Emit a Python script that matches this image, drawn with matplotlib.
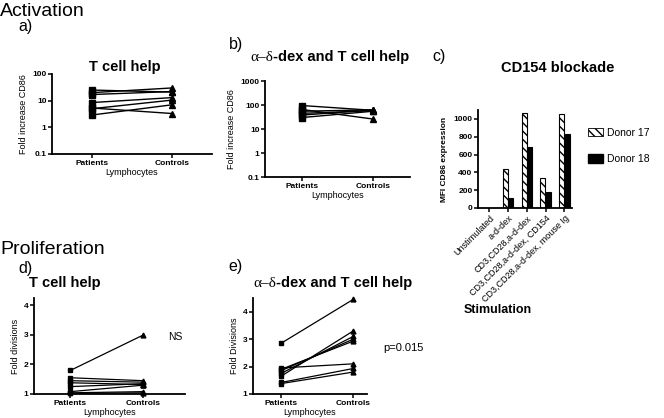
import matplotlib
matplotlib.use("Agg")
import matplotlib.pyplot as plt
import numpy as np
from matplotlib.offsetbox import TextArea, HPacker, AnnotationBbox
from matplotlib.patches import Patch
from matplotlib.ticker import FixedLocator, FixedFormatter, NullLocator

plt.rcParams['font.family'] = ['Liberation Sans', 'DejaVu Sans']
plt.rcParams['hatch.linewidth'] = 1.0

# ---------------- data ----------------
groups = ["Patients", "Controls"]

a_patients = [25, 20, 17, 8.5, 5.3, 5.0, 2.9]
a_controls = [21, 30, 22, 13, 3.3, 10.5, 7.0]

b_patients = [95, 65, 55, 45, 38, 30]
b_controls = [60, 26, 63, 58, 62, 55]

c_categories = ["Unstimulated", "a-d-dex", "CD3,CD28,a-d-dex",
                "CD3,CD28,a-d-dex, CD154", "CD3,CD28,a-d-dex, mouse Ig"]
c_donor17 = [5, 435, 1070, 335, 1060]
c_donor18 = [5, 112, 680, 180, 832]
c_series = ["Donor 17", "Donor 18"]

d_patients = [1.8, 1.55, 1.45, 1.38, 1.25, 1.08, 1.04, 1.02]
d_controls = [3.0, 1.45, 1.40, 1.32, 1.35, 1.30, 1.08, 1.04]

e_patients = [2.85, 1.65, 1.75, 1.85, 1.9, 1.95, 1.42, 1.38]
e_controls = [4.45, 3.3, 3.1, 3.0, 2.93, 2.1, 1.93, 1.8]

log_ticks_a = [0.1, 1, 10, 100]
log_labels_a = ["0.1", "1", "10", "100"]
log_ticks_b = [0.1, 1, 10, 100, 1000]
log_labels_b = ["0.1", "1", "10", "100", "1000"]
lin_ticks = [1, 2, 3, 4]
bar_ticks = [0, 200, 400, 600, 800, 1000]

# ---------------- layout ----------------
W, H = 664, 418
fig = plt.figure(figsize=(W / 100, H / 100), dpi=100)


def ax_px(l, t, r, b):
    return fig.add_axes([l / W, 1 - b / H, (r - l) / W, (b - t) / H])


def ftext(x, y, s, **kw):
    fig.text(x / W, 1 - y / H, s, **kw)


def style(ax):
    for s in ["top", "right"]:
        ax.spines[s].set_visible(False)
    for s in ["left", "bottom"]:
        ax.spines[s].set_linewidth(1.3)
    ax.tick_params(axis="both", direction="out", length=3, width=1.1,
                   labelsize=6, pad=1)
    for lab in ax.get_yticklabels() + ax.get_xticklabels():
        lab.set_fontweight("bold")


def paired(ax, pat, con, lw=1.0, ms=4):
    for p, c in zip(pat, con):
        ax.plot([0, 1], [p, c], color="black", lw=lw, zorder=2)
    ax.plot(np.zeros(len(pat)), pat, ls="none", marker="s", ms=ms,
            color="black", zorder=3, clip_on=False)
    ax.plot(np.ones(len(con)), con, ls="none", marker="^", ms=ms,
            color="black", zorder=3, clip_on=False)
    ax.set_xticks([0, 1])
    ax.set_xticklabels(groups)


def greek_title(x, y, size=10.5):
    t1 = TextArea("α–δ", textprops=dict(fontsize=size + 0.5,
                                         family="Liberation Serif"))
    t2 = TextArea("-dex and T cell help",
                  textprops=dict(fontsize=size, fontweight="bold",
                                 family="Liberation Sans"))
    box = HPacker(children=[t1, t2], pad=0, sep=0, align="baseline")
    ab = AnnotationBbox(box, (x / W, 1 - y / H), xycoords="figure fraction",
                        frameon=False, box_alignment=(0.5, 0.5))
    fig.add_artist(ab)


# headings
ftext(0, 12, "Activation", fontsize=14, va="center", ha="left")
ftext(0, 250, "Proliferation", fontsize=14, va="center", ha="left")
ftext(18, 27, "a)", fontsize=11.5, va="center")
ftext(229, 44, "b)", fontsize=11.5, va="center")
ftext(432, 57, "c)", fontsize=11.5, va="center")
ftext(18, 268, "d)", fontsize=11.5, va="center")
ftext(228, 266, "e)", fontsize=11.5, va="center")

# ---------------- panel a ----------------
ax = ax_px(52, 74, 212, 154)
paired(ax, a_patients, a_controls)
ax.set_yscale("log")
ax.set_ylim(0.1, 100)
ax.set_xlim(-0.5, 1.5)
ax.yaxis.set_major_locator(FixedLocator(log_ticks_a))
ax.yaxis.set_major_formatter(FixedFormatter(log_labels_a))
ax.yaxis.set_minor_locator(NullLocator())
style(ax)
ax.set_ylabel("Fold increase CD86", fontsize=6.5, labelpad=3)
ax.set_xlabel("Lymphocytes", fontsize=6.5, labelpad=1)
ftext(125, 67, "T cell help", fontsize=10.5, fontweight="bold",
      ha="center", va="center")

# ---------------- panel b ----------------
ax = ax_px(265, 81, 410, 177)
paired(ax, b_patients, b_controls)
ax.set_yscale("log")
ax.set_ylim(0.1, 1000)
ax.set_xlim(-0.52, 1.52)
ax.yaxis.set_major_locator(FixedLocator(log_ticks_b))
ax.yaxis.set_major_formatter(FixedFormatter(log_labels_b))
ax.yaxis.set_minor_locator(NullLocator())
style(ax)
ax.set_ylabel("Fold increase CD86", fontsize=6.5, labelpad=3)
ax.set_xlabel("Lymphocytes", fontsize=6.5, labelpad=1)
greek_title(330, 57)

# ---------------- panel c ----------------
ax = ax_px(478, 110, 572, 208)
x = np.arange(len(c_categories))
w = 0.26
ax.bar(x - 0.15, c_donor17, width=w, color="white", edgecolor="black",
       hatch="\\\\\\\\", linewidth=0.8, label=c_series[0])
ax.bar(x + 0.15, c_donor18, width=w, color="black", edgecolor="black",
       linewidth=0.8, label=c_series[1])
ax.set_xlim(-0.6, 4.4)
ax.set_ylim(0, 1100)
ax.set_yticks(bar_ticks)
ax.set_xticks(x)
ax.set_xticklabels(c_categories)
style(ax)
for lab in ax.get_xticklabels():
    lab.set_rotation(45)
    lab.set_ha("right")
    lab.set_rotation_mode("anchor")
    lab.set_fontweight("normal")
    lab.set_fontsize(6.5)
ax.set_ylabel("MFI CD86 expression", fontsize=6, fontweight="bold",
              labelpad=4)
ftext(498, 310, "Stimulation", fontsize=9, fontweight="bold",
      ha="center", va="center")
ftext(558, 68, "CD154 blockade", fontsize=10.5, fontweight="bold",
      ha="center", va="center")
handles = [Patch(facecolor="white", edgecolor="black", hatch="\\\\\\\\",
                 linewidth=0.6),
           Patch(facecolor="black", edgecolor="black")]
ax.legend(handles, c_series, loc="center left",
          bbox_to_anchor=(588 / W, 1 - 146 / H),
          bbox_transform=fig.transFigure, frameon=False, fontsize=7.5,
          handlelength=1.4, handleheight=0.9, labelspacing=1.6,
          handletextpad=0.4, borderpad=0, borderaxespad=0)

# ---------------- panel d ----------------
ax = ax_px(34, 298, 185, 394)
paired(ax, d_patients, d_controls, lw=0.9, ms=3.5)
ax.set_ylim(1, 4.25)
ax.set_xlim(-0.5, 1.57)
ax.set_yticks(lin_ticks)
style(ax)
ax.set_ylabel("Fold divisions", fontsize=6.5, labelpad=3)
ax.set_xlabel("Lymphocytes", fontsize=6.5, labelpad=1)
ftext(65, 283, "T cell help", fontsize=10.5, fontweight="bold",
      ha="center", va="center")
ftext(175, 337, "NS", fontsize=7.5, ha="center", va="center")

# ---------------- panel e ----------------
ax = ax_px(253, 298, 367, 394)
paired(ax, e_patients, e_controls, lw=0.9, ms=3.5)
ax.set_ylim(1, 4.5)
ax.set_xlim(-0.39, 1.19)
ax.set_yticks(lin_ticks)
style(ax)
ax.set_ylabel("Fold Divisions", fontsize=6.5, labelpad=3)
ax.set_xlabel("Lymphocytes", fontsize=6.5, labelpad=1)
greek_title(333, 283)
ftext(403, 348, "p=0.015", fontsize=8, ha="center", va="center")

fig.savefig("out.png", dpi=100)
